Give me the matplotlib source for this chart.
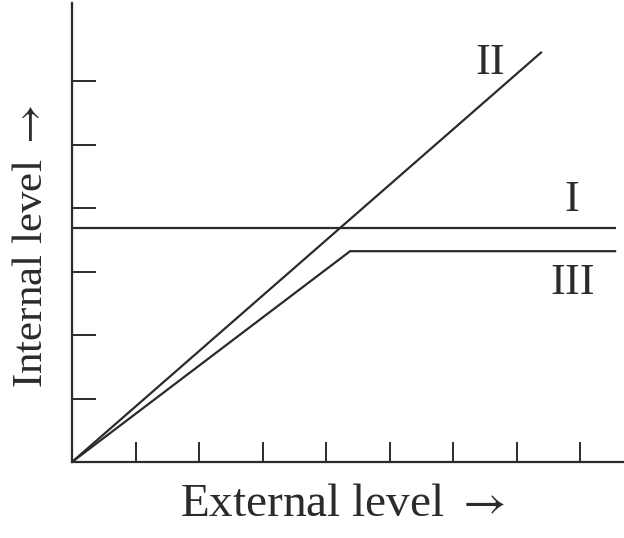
import matplotlib
matplotlib.use("Agg")
import matplotlib.pyplot as plt

plt.rcParams['font.family'] = ['Liberation Serif', 'DejaVu Serif']
plt.rcParams['mathtext.fontset'] = 'stix'

# data (in tick units)
line1_x = [0, 8.57]
line1_y = [3.69, 3.69]
line2_x = [0, 7.40]
line2_y = [0, 6.46]
line3_x = [0, 4.38, 8.57]
line3_y = [0, 3.32, 3.32]
x_ticks = [1, 2, 3, 4, 5, 6, 7, 8]
y_ticks = [1, 2, 3, 4, 5, 6]

col = '#2b2b2b'
W, H = 624, 538
fig = plt.figure(figsize=(W / 100, H / 100), dpi=100)
ax = fig.add_axes([72 / W, (H - 462) / H, (W - 72) / W, (462 - 3) / H])

ax.plot(line1_x, line1_y, color=col, lw=1.6, solid_capstyle='butt')
ax.plot(line2_x, line2_y, color=col, lw=1.6, solid_capstyle='butt')
ax.plot(line3_x, line3_y, color=col, lw=1.6, solid_capstyle='butt')

ax.text(6.58, 6.28, 'II', fontsize=32, ha='center', va='center', color=col)
ax.text(7.87, 4.13, 'I', fontsize=32, ha='center', va='center', color=col)
ax.text(7.89, 2.82, 'III', fontsize=32, ha='center', va='center', color=col)

ax.set_xlim(0, (W - 72) / 63.5)
ax.set_ylim(0, (462 - 3) / 63.5)
ax.set_xticks(x_ticks)
ax.set_yticks(y_ticks)
ax.set_xticklabels([])
ax.set_yticklabels([])
ax.tick_params(axis='x', direction='in', length=14.5, width=1.4, color=col)
ax.tick_params(axis='y', direction='in', length=17, width=1.4, color=col)
for s in ['top', 'right']:
    ax.spines[s].set_visible(False)
for s in ['left', 'bottom']:
    ax.spines[s].set_color(col)
    ax.spines[s].set_linewidth(1.6)

fig.text(342 / W, 1 - 505 / H, 'External level $\\rightarrow$', fontsize=34,
         ha='center', va='center', color=col)
fig.text(32 / W, 1 - 246 / H, 'Internal level $\\rightarrow$', fontsize=31,
         ha='center', va='center', rotation=90, color=col)

fig.savefig('out.png', dpi=100)
